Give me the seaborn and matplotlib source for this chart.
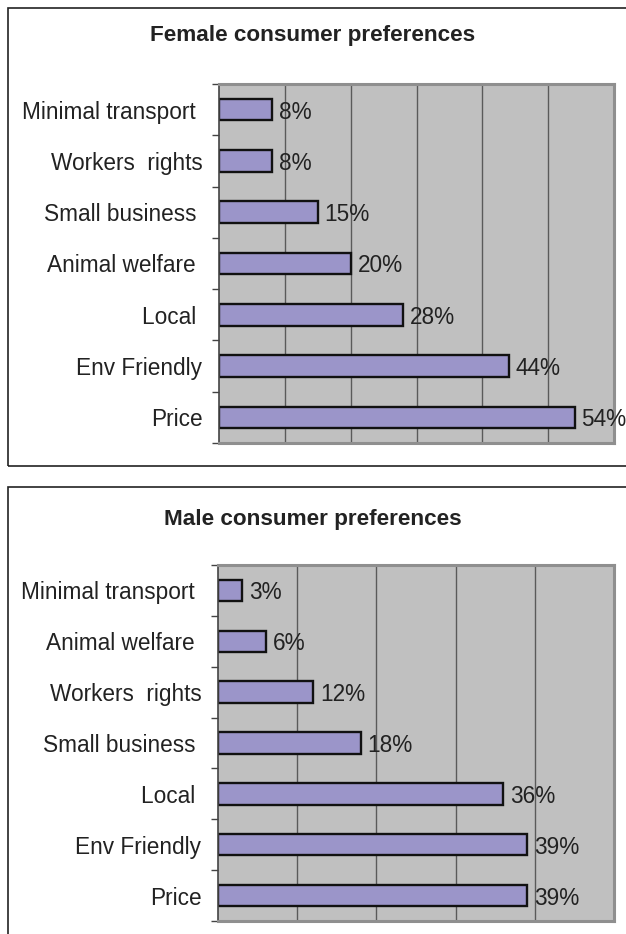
import matplotlib
matplotlib.use("Agg")
import matplotlib.pyplot as plt
import seaborn as sns
import pandas as pd
from matplotlib.patches import Rectangle

# ---- data ----
female_categories = ["Minimal transport ", "Workers  rights", "Small business ", "Animal welfare ",
                     "Local ", "Env Friendly", "Price"]
female_values = [8, 8, 15, 20, 28, 44, 54]

male_categories = ["Minimal transport ", "Animal welfare ", "Workers  rights", "Small business ",
                   "Local ", "Env Friendly", "Price"]
male_values = [3, 6, 12, 18, 36, 39, 39]

female_title = "Female consumer preferences"
male_title = "Male consumer preferences"

sns.set_theme(style="white")
plt.rcParams["font.family"] = ["Liberation Sans", "DejaVu Sans"]

W, H = 626, 934
fig = plt.figure(figsize=(W / 100, H / 100), dpi=100)


def rect(l, t, r, b):
    return [l / W, 1 - b / H, (r - l) / W, (b - t) / H]


BAR = "#9b95c9"
BG = "#c0c0c0"
FS = 16.3


def draw(ax, cats, vals, xmax):
    df = pd.DataFrame({"cat": cats, "val": vals})
    sns.barplot(data=df, y="cat", x="val", orient="h", ax=ax, color=BAR,
                edgecolor="#111111", linewidth=1.7, width=0.42, saturation=1)
    ax.set_facecolor(BG)
    ax.set_xlim(0, xmax)
    ax.set_ylim(len(cats) - 0.5, -0.5)
    ax.set_xticks(range(10, xmax, 10))
    ax.grid(axis="x", color="#5a5a5a", linewidth=1.0)
    ax.set_axisbelow(True)
    ax.tick_params(axis="x", length=0, labelbottom=False)
    ax.set_yticks(range(len(cats)))
    ax.set_yticklabels(cats, fontsize=FS, color="#222222")
    ax.tick_params(axis="y", which="major", length=0, pad=12)
    ax.set_yticks([i - 0.5 for i in range(len(cats) + 1)], minor=True)
    ax.tick_params(axis="y", which="minor", length=5, width=1, color="#444444", left=True)
    ax.set_xlabel("")
    ax.set_ylabel("")
    for s in ["top", "right", "bottom"]:
        ax.spines[s].set_color("#8f8f8f")
        ax.spines[s].set_linewidth(2.2)
    ax.spines["left"].set_color("#444444")
    ax.spines["left"].set_linewidth(1.2)
    for i, v in enumerate(vals):
        ax.annotate(f"{v}%", xy=(v, i), xytext=(5, 0), textcoords="offset points",
                    va="center_baseline", ha="left", fontsize=FS, color="#222222")


ax1 = fig.add_axes(rect(219, 84, 614, 443))
draw(ax1, female_categories, female_values, 60)
ax2 = fig.add_axes(rect(218, 565, 614, 921))
draw(ax2, male_categories, male_values, 50)

fig.text(313 / W, 1 - 36 / H, female_title, ha="center", va="center",
         fontsize=16.2, fontweight="bold", color="#222222")
fig.text(313 / W, 1 - 519 / H, male_title, ha="center", va="center",
         fontsize=16.2, fontweight="bold", color="#222222")

# panel borders
for (l, t, r, b) in [(8, 8, 640, 466), (8, 487, 640, 960)]:
    fig.patches.append(Rectangle((l / W, 1 - b / H), (r - l) / W, (b - t) / H,
                                 transform=fig.transFigure, fill=False,
                                 edgecolor="#222222", linewidth=1.2, zorder=-1))

fig.savefig("out.png", dpi=100)
